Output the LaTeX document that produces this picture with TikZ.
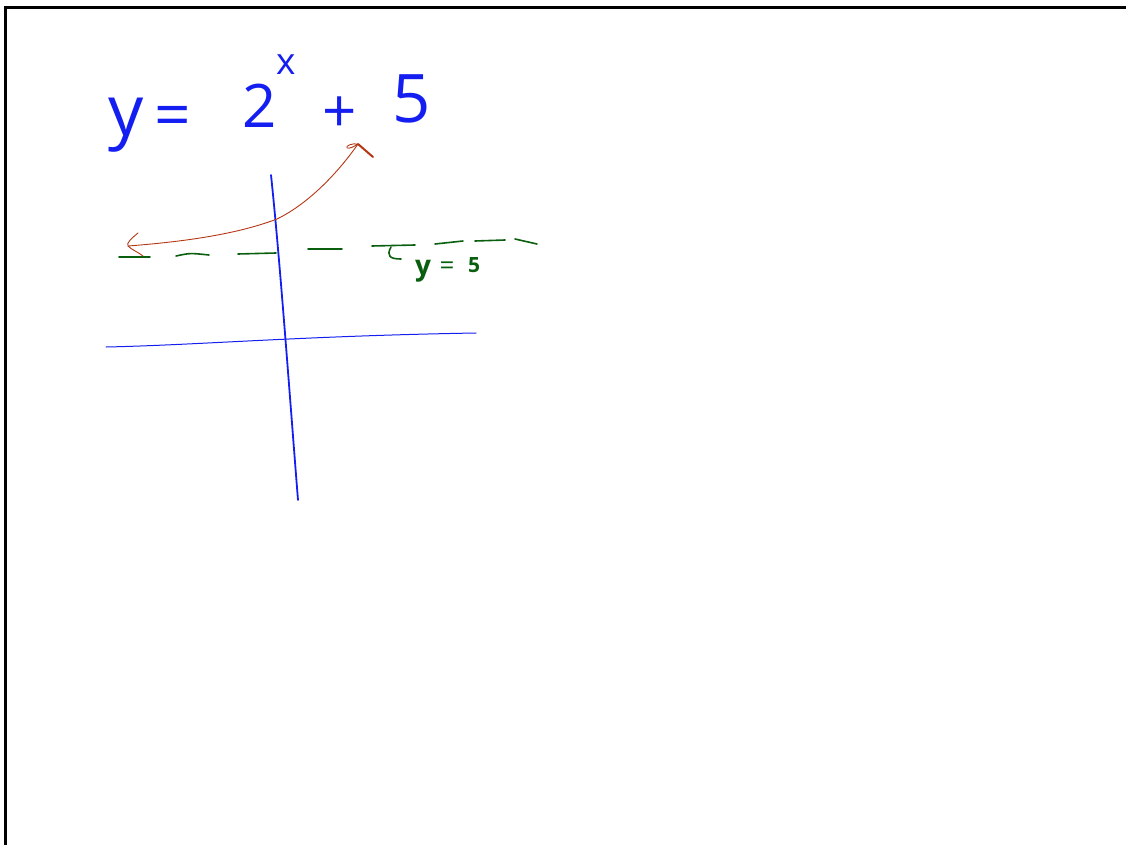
\documentclass[tikz,border=0pt]{standalone}
\usepackage{fontspec}
\setmainfont{Open Sans}
\definecolor{penblue}{RGB}{20,30,240}
\definecolor{pengreen}{RGB}{10,95,15}
\definecolor{penred}{RGB}{180,55,20}
\tikzset{
  bluetxt/.style={text=penblue,inner sep=0pt,anchor=base},
  greentxt/.style={text=pengreen,inner sep=0pt,anchor=base,font=\bfseries},
  dashseg/.style={draw=pengreen,line width=1.6pt,line cap=round},
  axis/.style={draw=penblue,line cap=round},
  curve/.style={draw=penred,line width=0.9pt,line cap=round,line join=round},
}
\begin{document}
\begin{tikzpicture}[x=1pt,y=-1pt]
\useasboundingbox (0,0) rectangle (1126,845);
% frame
\draw[line width=3pt] (5.5,846) -- (5.5,7.5) -- (1127,7.5);
% equation
\node[bluetxt,font=\fontsize{70}{70}\selectfont] (ty) at (126,136) {y};
\node[bluetxt,font=\fontsize{64}{64}\selectfont] (teq) at (173,138) {=};
\node[bluetxt,font=\fontsize{60}{60}\selectfont] (ttwo) at (260,128) {2};
\node[bluetxt,font=\fontsize{37}{37}\selectfont] (tx) at (286,75) {x};
\node[bluetxt,font=\fontsize{60}{60}\selectfont] (tplus) at (340,133) {+};
\node[bluetxt,font=\fontsize{67}{67}\selectfont] (tfive) at (412,123) {5};
% axes
\coordinate (vt) at (271,175);
\coordinate (vb) at (298,500);
\draw[axis,line width=1.8pt] (vt) .. controls (280,260) and (290,400) .. (vb);
\coordinate (hl) at (106,347);
\coordinate (hr) at (476,333);
\draw[axis,line width=1pt] (hl) .. controls (200,345) and (300,336) .. (hr);
% asymptote dashes
\coordinate (d1a) at (119,257); \coordinate (d1b) at (150,257);
\coordinate (d2a) at (176,256); \coordinate (d2b) at (209,255);
\coordinate (d3a) at (238,254); \coordinate (d3b) at (276,253);
\coordinate (d4a) at (308,249); \coordinate (d4b) at (342,249);
\coordinate (d5a) at (372,246); \coordinate (d5b) at (415,245);
\coordinate (d6a) at (435,244); \coordinate (d6b) at (463,241);
\coordinate (d7a) at (475,241); \coordinate (d7b) at (505,240);
\coordinate (d8a) at (515,239); \coordinate (d8b) at (537,244);
\draw[dashseg] (d1a) -- (d1b);
\draw[dashseg] (d2a) .. controls (190,253) .. (d2b);
\draw[dashseg] (d3a) -- (d3b);
\draw[dashseg] (d4a) -- (d4b);
\draw[dashseg] (d5a) -- (d5b);
\draw[dashseg] (391,247) .. controls (386,256) and (390,259) .. (401,259);
\draw[dashseg] (d6a) -- (d6b);
\draw[dashseg] (d7a) -- (d7b);
\draw[dashseg] (d8a) -- (d8b);
% label y=5
\node[greentxt,font=\bfseries\fontsize{28}{28}\selectfont] (gy) at (423,275) {y};
\node[greentxt,font=\fontsize{26}{26}\selectfont] (geq) at (447,274) {=};
\node[greentxt,font=\bfseries\fontsize{21}{21}\selectfont] (gfive) at (474,272) {5};
% exponential curve
\coordinate (cl) at (128,246);
\coordinate (cr) at (358,144);
\draw[curve] (cl) .. controls (180,242) and (235,235) .. (277,219)
  .. controls (310,203) and (340,170) .. (cr);
\draw[curve] (138,233) .. controls (132,238) and (126,243) .. (cl)
  .. controls (132,250) and (138,252) .. (143,256);
\draw[curve] (cr) .. controls (352,143) and (345,146) .. (347,148)
  .. controls (350,149) and (355,146) .. (cr);
\draw[curve,line width=2pt] (cr) -- (373,157);
\end{tikzpicture}
\end{document}
